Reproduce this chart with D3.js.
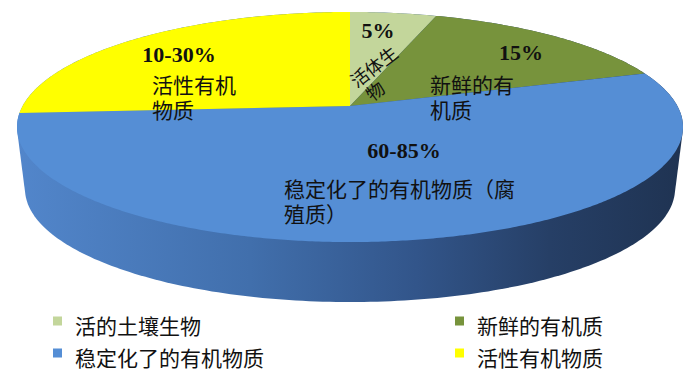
<!DOCTYPE html>
<html><head><meta charset="utf-8">
<script src="https://cdn.jsdelivr.net/npm/d3@7/dist/d3.min.js"></script>
<style>html,body{margin:0;padding:0;background:#fff;}svg{display:block;}</style>
</head><body>
<svg id="chart" width="700" height="379"></svg>
<script>
// ---- data ----
const categories = ["活的土壤生物", "新鲜的有机质", "稳定化了的有机物质", "活性有机物质"];
const values = [5, 15, 54, 26];
const percentLabels = ["5%", "15%", "60-85%", "10-30%"];
const sliceLabels = [["活体生", "物"], ["新鲜的有", "机质"], ["稳定化了的有机物质（腐", "殖质）"], ["活性有机", "物质"]];
const colors = ["#C3D69B", "#77933C", "#558ED5", "#FFFF00"];

// ---- layout / style ----
const P = {cx: 350, cy: 106, rx: 327.4, ry: 111.2, k: -0.1826, ecy: 127, depth: 62, sx: 0.976, sy: 0.983};
const pctPos = [[378, 38], [521, 60], [404, 158], [179, 62]];
const lblPos = [[360, 78], [430, 85], [284, 189], [152, 85]];
const cjk = "'Noto Sans CJK SC', 'Noto Sans', sans-serif";

const svg = d3.select("#chart");

function topPt(t) {
  const u = Math.sin(t), v = -Math.cos(t), d = 1 + P.k * v;
  return [P.cx + P.rx * u / d, P.cy + P.ry * v / d];
}
function botPt(t) {
  const [x, y] = topPt(t);
  return [P.cx + P.sx * (x - P.cx), P.ecy + P.depth + P.sy * (y - P.ecy)];
}

const defs = svg.append("defs");
const g = defs.append("linearGradient").attr("id", "side")
  .attr("gradientUnits", "userSpaceOnUse").attr("x1", 17).attr("x2", 683).attr("y1", 0).attr("y2", 0);
[[0, "#5286cb"], [0.35, "#416fac"], [0.6, "#32558a"], [0.8, "#263f66"], [1, "#1f3352"]]
  .forEach(([o, c]) => g.append("stop").attr("offset", o).attr("stop-color", c));

// side (hull of top and bottom rims)
const samples = d3.range(0, 360, 1).map(a => a * Math.PI / 180);
const rimPts = samples.map(topPt).concat(samples.map(botPt));
const hull = d3.polygonHull(rimPts);
svg.append("path").attr("d", "M" + hull.join("L") + "Z").attr("fill", "url(#side)");

// top face slices
const pie = d3.pie().sort(null).value(d => d).startAngle(0).endAngle(2 * Math.PI);
const arcs = pie(values);
const line = d3.line();
arcs.forEach((a, i) => {
  const n = Math.max(2, Math.ceil((a.endAngle - a.startAngle) / (Math.PI / 360)));
  const pts = [[P.cx, P.cy]];
  for (let j = 0; j <= n; j++) pts.push(topPt(a.startAngle + (a.endAngle - a.startAngle) * j / n));
  svg.append("path").attr("d", line(pts) + "Z").attr("fill", colors[i]);
});

// percentage labels
percentLabels.forEach((t, i) => {
  svg.append("text").attr("x", pctPos[i][0]).attr("y", pctPos[i][1])
    .attr("text-anchor", "middle")
    .style("font-family", "'Liberation Serif', 'Times New Roman', serif")
    .style("font-weight", "bold").style("font-size", "22px").attr("fill", "#111")
    .text(t);
});

// category labels inside slices (one text element, lines as tspans)
sliceLabels.forEach((lines, i) => {
  const grp = svg.append("g").attr("transform", i === 0
    ? `translate(${lblPos[i][0]},${lblPos[i][1]}) rotate(-37.5)`
    : `translate(${lblPos[i][0]},${lblPos[i][1]})`);
  const fs = i === 0 ? 18 : 21;
  const lh = i === 0 ? 20 : 25;
  const txt = grp.append("text")
    .style("font-family", cjk).style("font-size", fs + "px").attr("fill", "#111");
  lines.forEach((ln, j) => {
    txt.append("tspan")
      .attr("x", i === 0 ? (j === 0 ? -9 : -5) : 0)
      .attr("y", j * lh + fs * 0.36)
      .text(ln);
  });
});

// legend
const legX = [53, 455], legY = [321, 353];
categories.forEach((c, i) => {
  const col = i % 2, row = Math.floor(i / 2);
  svg.append("rect").attr("x", legX[col]).attr("y", legY[row] - 4.5).attr("width", 9).attr("height", 9)
    .attr("fill", colors[i]);
  svg.append("text").attr("x", legX[col] + 22).attr("y", legY[row] + 4)
    .attr("dominant-baseline", "central")
    .style("font-family", cjk).style("font-size", "21px").attr("fill", "#111")
    .text(c);
});
</script>
</body></html>
